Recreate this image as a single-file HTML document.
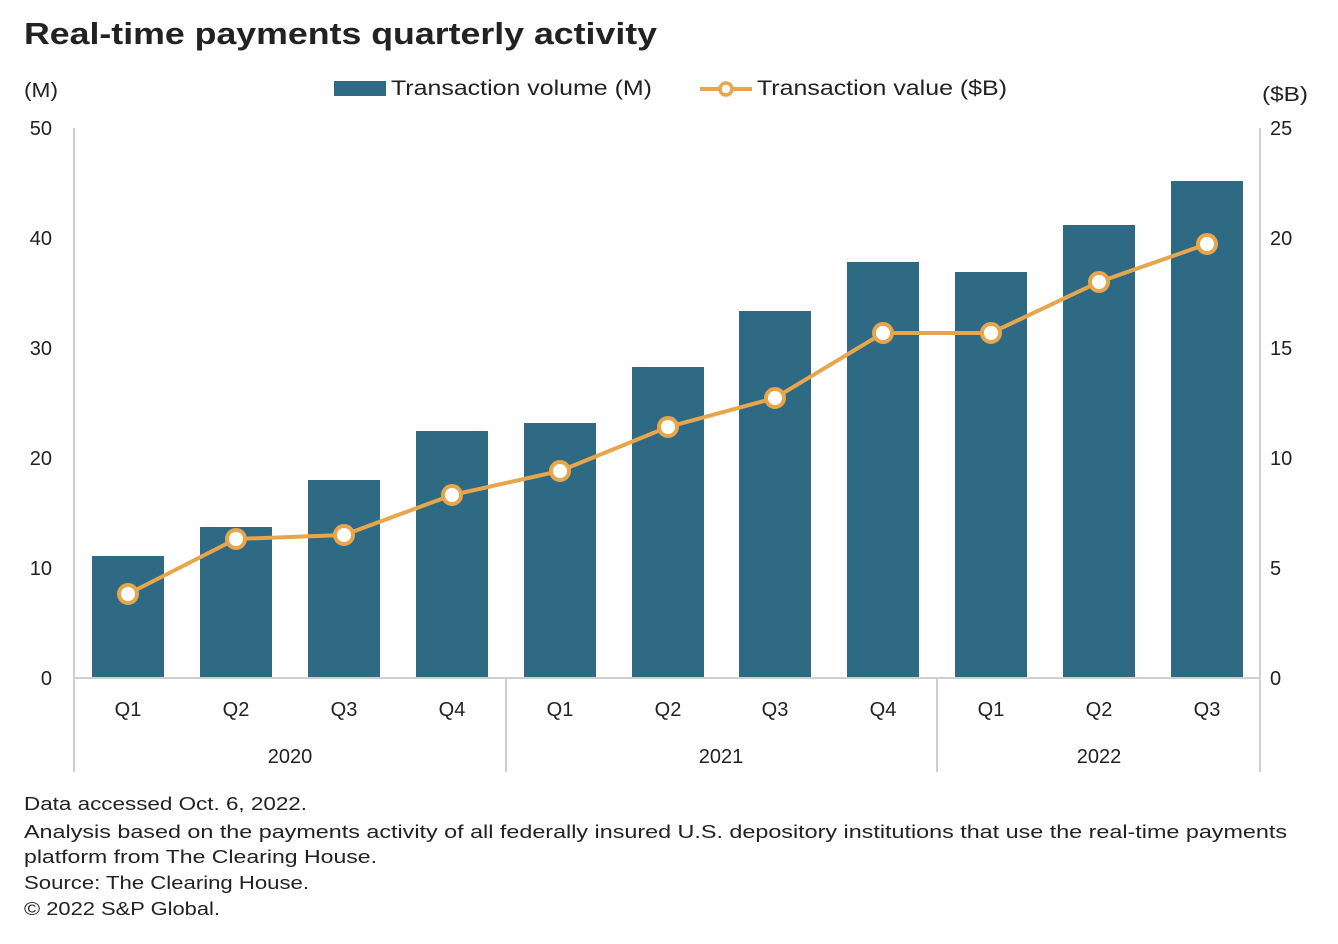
<!DOCTYPE html>
<html><head><style>body{margin:0;background:#fff}svg{display:block}text{font-family:"Liberation Sans",sans-serif;fill:#222}</style></head><body>
<svg width="1338" height="944" viewBox="0 0 1338 944">
<text x="24" y="44" font-size="31" font-weight="bold" fill="#111" textLength="633" lengthAdjust="spacingAndGlyphs">Real-time payments quarterly activity</text>
<text x="24" y="97" font-size="20" textLength="34" lengthAdjust="spacingAndGlyphs">(M)</text>
<text x="1262" y="101" font-size="20" textLength="46" lengthAdjust="spacingAndGlyphs">($B)</text>
<rect x="334" y="81" width="52" height="15" fill="#2e6a84"/>
<text x="391" y="95" font-size="21" textLength="261" lengthAdjust="spacingAndGlyphs">Transaction volume (M)</text>
<line x1="700" y1="89" x2="752" y2="89" stroke="#e8a64c" stroke-width="4"/>
<circle cx="726" cy="89" r="6" fill="#fff" stroke="#e8a64c" stroke-width="3.5"/>
<text x="757" y="95" font-size="21" textLength="250" lengthAdjust="spacingAndGlyphs">Transaction value ($B)</text>
<g font-size="20">
<text x="52" y="135" text-anchor="end">50</text><text x="52" y="245" text-anchor="end">40</text><text x="52" y="355" text-anchor="end">30</text><text x="52" y="465" text-anchor="end">20</text><text x="52" y="575" text-anchor="end">10</text><text x="52" y="685" text-anchor="end">0</text>
<text x="1270" y="135">25</text><text x="1270" y="245">20</text><text x="1270" y="355">15</text><text x="1270" y="465">10</text><text x="1270" y="575">5</text><text x="1270" y="685">0</text>
</g>
<g stroke="#cfcfcf" stroke-width="2">
<line x1="74" y1="128" x2="74" y2="772"/><line x1="1260" y1="128" x2="1260" y2="772"/>
<line x1="506" y1="678" x2="506" y2="772"/><line x1="937" y1="678" x2="937" y2="772"/>
</g>
<g fill="#2e6a84">
<rect x="92" y="556" width="72" height="122"/><rect x="200" y="527" width="72" height="151"/><rect x="308" y="480" width="72" height="198"/><rect x="416" y="431" width="72" height="247"/><rect x="524" y="423" width="72" height="255"/><rect x="632" y="367" width="72" height="311"/><rect x="739" y="311" width="72" height="367"/><rect x="847" y="262" width="72" height="416"/><rect x="955" y="272" width="72" height="406"/><rect x="1063" y="225" width="72" height="453"/><rect x="1171" y="181" width="72" height="497"/>
</g>
<line x1="74" y1="678" x2="1260" y2="678" stroke="#cfcfcf" stroke-width="2"/>
<polyline fill="none" stroke="#e8a64c" stroke-width="4" points="128,594 236,539 344,535 452,495 560,471 668,427 775,398 883,333 991,333 1099,282 1207,244"/>
<g fill="#fff" stroke="#e8a64c" stroke-width="4">
<circle cx="128" cy="594" r="9"/><circle cx="236" cy="539" r="9"/><circle cx="344" cy="535" r="9"/><circle cx="452" cy="495" r="9"/><circle cx="560" cy="471" r="9"/><circle cx="668" cy="427" r="9"/><circle cx="775" cy="398" r="9"/><circle cx="883" cy="333" r="9"/><circle cx="991" cy="333" r="9"/><circle cx="1099" cy="282" r="9"/><circle cx="1207" cy="244" r="9"/>
</g>
<g font-size="20" text-anchor="middle">
<text x="128" y="716">Q1</text><text x="236" y="716">Q2</text><text x="344" y="716">Q3</text><text x="452" y="716">Q4</text><text x="560" y="716">Q1</text><text x="668" y="716">Q2</text><text x="775" y="716">Q3</text><text x="883" y="716">Q4</text><text x="991" y="716">Q1</text><text x="1099" y="716">Q2</text><text x="1207" y="716">Q3</text>
<text x="290" y="763">2020</text><text x="721" y="763">2021</text><text x="1099" y="763">2022</text>
</g>
<g font-size="18.5" lengthAdjust="spacingAndGlyphs">
<text x="24" y="810" textLength="283" lengthAdjust="spacingAndGlyphs">Data accessed Oct. 6, 2022.</text>
<text x="24" y="838" textLength="1263" lengthAdjust="spacingAndGlyphs">Analysis based on the payments activity of all federally insured U.S. depository institutions that use the real-time payments</text>
<text x="24" y="863" textLength="353" lengthAdjust="spacingAndGlyphs">platform from The Clearing House.</text>
<text x="24" y="889" textLength="285" lengthAdjust="spacingAndGlyphs">Source: The Clearing House.</text>
<text x="24" y="915" textLength="196" lengthAdjust="spacingAndGlyphs">© 2022 S&amp;P Global.</text>
</g>
</svg>
</body></html>
